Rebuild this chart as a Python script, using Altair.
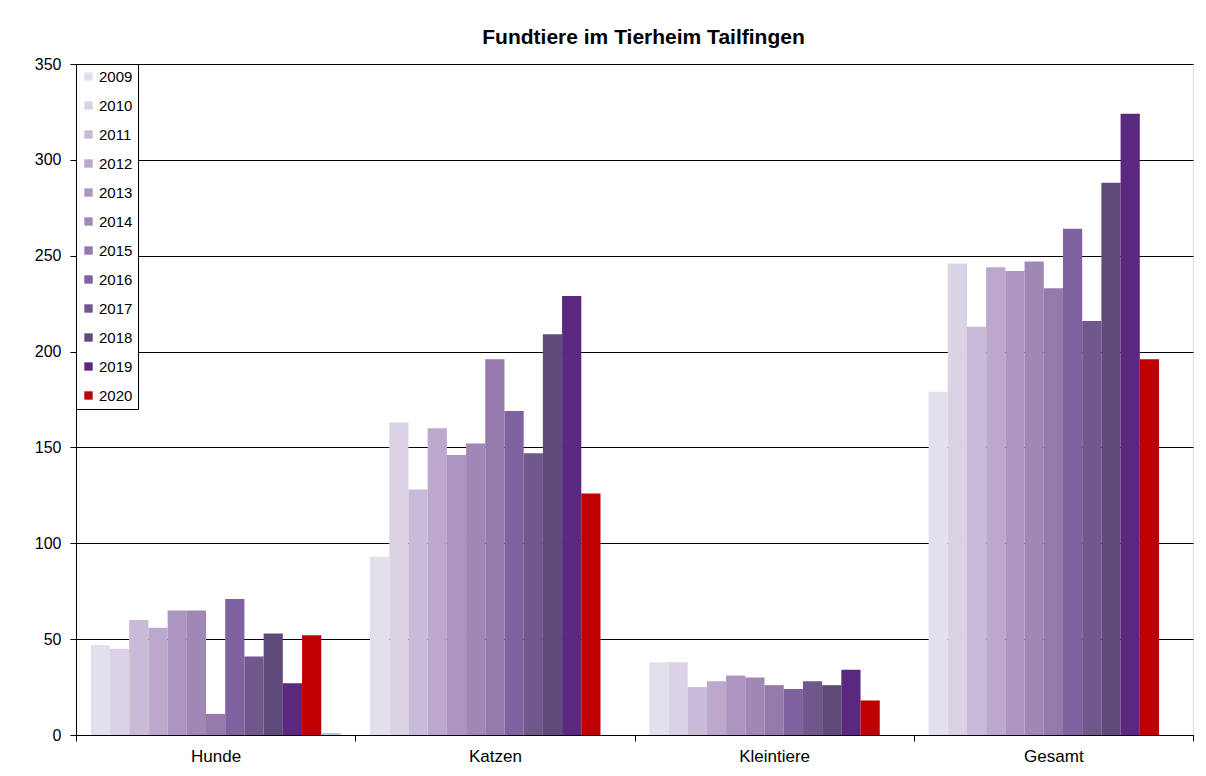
import altair as alt
import pandas as pd

categories = ["Hunde", "Katzen", "Kleintiere", "Gesamt"]
years = ["2009", "2010", "2011", "2012", "2013", "2014", "2015", "2016",
         "2017", "2018", "2019", "2020", "2021"]
legend_years = years[:12]

hunde = [47, 45, 60, 56, 65, 65, 11, 71, 41, 53, 27, 52, 1]
katzen = [93, 163, 128, 160, 146, 152, 196, 169, 147, 209, 229, 126, 0]
kleintiere = [38, 38, 25, 28, 31, 30, 26, 24, 28, 26, 34, 18, 0]
gesamt = [179, 246, 213, 244, 242, 247, 233, 264, 216, 288, 324, 196, 0]

colors = ["#E4DFEC", "#DAD3E5", "#C9BBD8", "#BBA8CC", "#AB95BF", "#A087B6",
          "#9579AD", "#7F62A0", "#70578C", "#5F4B7A", "#5A287F", "#C00000",
          "#B4C6DC"]

rows = []
for cat, vals in zip(categories, [hunde, katzen, kleintiere, gesamt]):
    for y, v in zip(years, vals):
        rows.append({"Kategorie": cat, "Jahr": y, "Anzahl": v})
df = pd.DataFrame(rows)

bars = alt.Chart(df).mark_bar(stroke=None).encode(
    x=alt.X("Kategorie:N", sort=categories, title=None,
            scale=alt.Scale(paddingInner=0, paddingOuter=0),
            axis=alt.Axis(labelAngle=0, tickBand="extent", domainColor="black",
                          tickColor="black", tickSize=6, labelFontSize=17,
                          labelPadding=7, labelColor="black", grid=False,
                          labelFont="Liberation Sans")),
    xOffset=alt.XOffset("Jahr:N", sort=years,
                        scale=alt.Scale(paddingInner=0, paddingOuter=0.77)),
    y=alt.Y("Anzahl:Q", title=None,
            scale=alt.Scale(domain=[0, 350], nice=False),
            axis=alt.Axis(values=[0, 50, 100, 150, 200, 250, 300, 350],
                          grid=True, gridColor="black", gridWidth=1,
                          domainColor="black", tickColor="black", tickSize=6,
                          labelFontSize=16, labelPadding=9, labelColor="black",
                          labelFont="Liberation Sans")),
    color=alt.Color("Jahr:N", sort=years,
                    scale=alt.Scale(domain=years, range=colors),
                    legend=alt.Legend(title=None, values=legend_years,
                                      orient="top-left", offset=0,
                                      fillColor="white", strokeColor="black",
                                      padding=5, symbolType="square",
                                      symbolSize=70, symbolStrokeWidth=0,
                                      labelFontSize=15, labelFont="Liberation Sans",
                                      labelColor="black", rowPadding=13,
                                      symbolOffset=0, labelOffset=3)),
)

chart = bars.properties(
    width=1117,
    height=671,
    title=alt.TitleParams("Fundtiere im Tierheim Tailfingen", fontSize=21,
                          font="Liberation Sans", fontWeight="bold",
                          color="black", anchor="middle", offset=8, dx=9),
    autosize=alt.AutoSizeParams(type="none"),
    padding={"left": 68, "top": 56, "right": 5, "bottom": 30},
).configure_view(
    fill="#FFFFCC", stroke="#8C8C8C", strokeWidth=2
).configure(background="white")

chart.save("out.html", embed_options={"renderer": "svg", "actions": False})
